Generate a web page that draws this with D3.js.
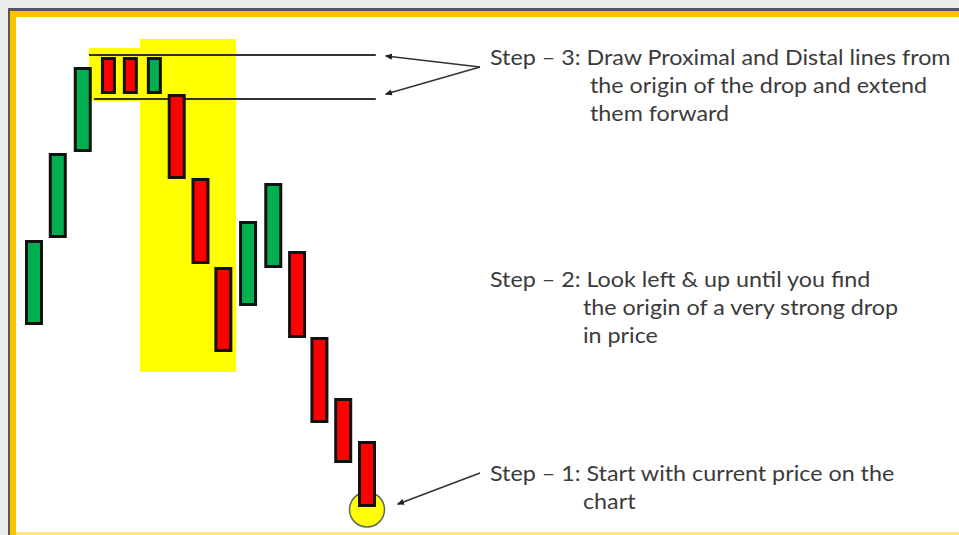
<!DOCTYPE html>
<html>
<head>
<meta charset="utf-8">
<script src="https://cdn.jsdelivr.net/npm/d3@7"></script>
<style>
  body { margin: 0; background: #fff; }
  svg { display: block; }
  .note { font-family: Lato, "Open Sans", sans-serif; font-size: 21px; fill: #3b3b3b; }
</style>
</head>
<body>
<div id="chart"></div>
<script>
// candles (price units are arbitrary)
var opens  = [97.5, 141, 184, 231.5, 231.5, 213, 213, 171, 126.5, 107, 126, 134.5, 91.5, 61, 39.5];
var closes = [140, 183.5, 226.5, 213, 213, 231.5, 170.5, 128, 84, 149.5, 168.5, 91, 48.5, 28.5, 6.5];
var kinds  = ['move', 'move', 'move', 'base', 'base', 'base', 'move', 'move', 'move', 'move', 'move', 'move', 'move', 'move', 'move'];
var slots  = [0, 1, 2.05, 3.13, 4.05, 5.06, 6, 7, 7.96, 9, 10.06, 11.06, 12, 13, 14];

// supply zone: proximal / distal prices and the highlighted areas
var proximal = 232.5, distal = 210.5;
var lineStart = [2.31, 2.52], lineEnd = 14.37;
var baseZone = {x0: 2.31, x1: 4.45, top: 236, bottom: 209.5};
var dropZone = {x0: 4.45, x1: 8.5, top: 240.5, bottom: 74};
var currentPrice = 5.25, currentIdx = 14;

var notes = [
  {lines: ['Step \u2013 3: Draw Proximal and Distal lines from', 'the origin of the drop and extend', 'them forward'], y: 65, indent: 100},
  {lines: ['Step \u2013 2: Look left & up until you find', 'the origin of a very strong drop', 'in price'], y: 287, indent: 93},
  {lines: ['Step \u2013 1: Start with current price on the', 'chart'], y: 481, indent: 93}
];

var w = 959, h = 535;

var svg = d3.select('#chart').append('svg')
    .attr('width', w)
    .attr('height', h);

var defs = svg.append('defs');
defs.append('marker')
    .attr('id', 'head')
    .attr('viewBox', '0 0 10 10')
    .attr('refX', 8).attr('refY', 5)
    .attr('markerWidth', 5).attr('markerHeight', 5)
    .attr('orient', 'auto')
    .append('path')
    .attr('d', 'M0,1 L10,5 L0,9 Z')
    .attr('fill', '#222');

// frame round the slide
svg.append('rect').attr('width', w).attr('height', h).attr('fill', '#ececec');
svg.append('rect').attr('x', 8).attr('y', 8).attr('width', w).attr('height', h).attr('fill', '#555');
svg.append('rect').attr('x', 10).attr('y', 11).attr('width', w).attr('height', h).attr('fill', '#ffc000');
svg.append('rect').attr('x', 16).attr('y', 17).attr('width', w).attr('height', h - 19).attr('fill', '#fff');
svg.append('rect').attr('x', 16).attr('y', 532).attr('width', w).attr('height', 3).attr('fill', '#ffe680');

var x = d3.scaleLinear().domain([0, 14]).range([34, 367]);
var y = d3.scaleLinear().domain([0, 240]).range([520, 40]);

var plot = svg.append('g').attr('id', 'candles');

// yellow zones
[baseZone, dropZone].forEach(z => {
    plot.append('rect')
        .attr('x', x(z.x0))
        .attr('y', y(z.top))
        .attr('width', x(z.x1) - x(z.x0))
        .attr('height', y(z.bottom) - y(z.top))
        .attr('fill', '#ffff00');
});

// proximal and distal lines
[proximal, distal].forEach((p, i) => {
    plot.append('line')
        .attr('x1', x(lineStart[i])).attr('x2', x(lineEnd))
        .attr('y1', y(p)).attr('y2', y(p))
        .attr('stroke', '#333')
        .attr('stroke-width', 2);
});

// current price marker
plot.append('circle')
    .attr('cx', x(currentIdx))
    .attr('cy', y(currentPrice))
    .attr('r', 17.5)
    .attr('fill', '#ffff00')
    .attr('stroke', '#666')
    .attr('stroke-width', 1.5);

var candles = opens.map((o, i) => ({i: slots[i], open: o, close: closes[i], kind: kinds[i]}));

plot.selectAll('.candle')
    .data(candles)
    .enter()
    .append('rect')
    .attr('class', 'candle')
    .attr('x', d => x(d.i) - (d.kind === 'base' ? 6 : 7.5))
    .attr('width', d => d.kind === 'base' ? 12 : 15)
    .attr('y', d => y(Math.max(d.open, d.close)) + 1.5)
    .attr('height', d => Math.abs(y(d.open) - y(d.close)) - 3)
    .attr('fill', d => d.close > d.open ? '#00b050' : '#ff0000')
    .attr('stroke', '#111')
    .attr('stroke-width', 3);

// arrows from the notes
var arrows = [
    [480, 67, 386, 56],
    [480, 67, 386, 94],
    [480, 473, 398, 504]
];
svg.selectAll('.arrow')
    .data(arrows)
    .enter()
    .append('line')
    .attr('class', 'arrow')
    .attr('x1', d => d[0]).attr('y1', d => d[1])
    .attr('x2', d => d[2]).attr('y2', d => d[3])
    .attr('stroke', '#333')
    .attr('stroke-width', 1.5)
    .attr('marker-end', 'url(#head)');

// the slide font runs wider than Lato, so stretch it a little
notes.forEach(n => {
    n.lines.forEach((t, j) => {
        let tx = j === 0 ? 490 : 490 + n.indent;
        svg.append('text')
            .attr('class', 'note')
            .attr('transform', `translate(${tx}, ${n.y + j * 28}) scale(1.11, 1)`)
            .text(t);
    });
});
</script>
</body>
</html>
